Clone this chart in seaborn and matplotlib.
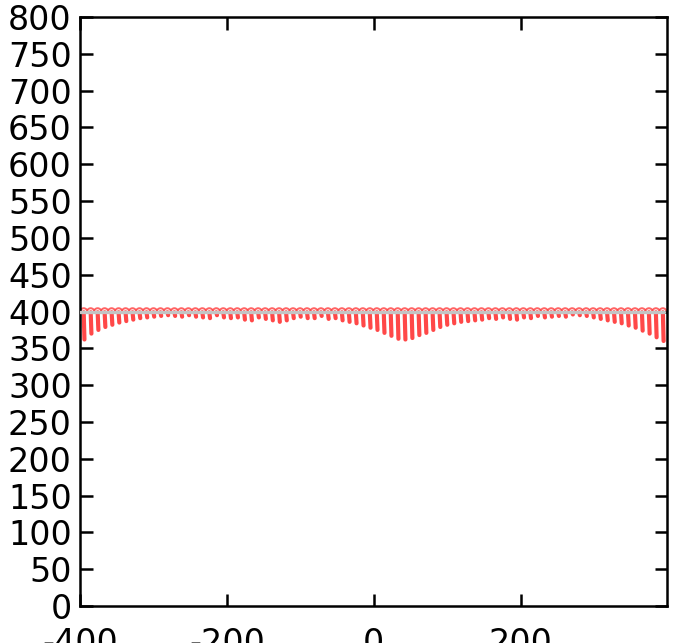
import numpy as np
import pandas as pd
import seaborn as sns
import matplotlib.pyplot as plt
from matplotlib.patches import Arc

# drop positions (x) and how far each one hangs below the 400 line
drop_x = [-395.0 + 9.5 * i for i in range(84)]
drop_depth = [38, 30, 25, 21, 18, 15, 13, 11, 9, 8,
              7, 6, 5, 6, 7, 5, 7, 8, 9, 5,
              8, 9, 8, 11, 12, 8, 10, 12, 14, 12,
              9, 7, 9, 9, 6, 10, 9, 12, 14, 16,
              19, 22, 25, 29, 33, 37, 38, 36, 32, 29,
              25, 21, 18, 16, 14, 13, 12, 11, 9, 10,
              8, 10, 11, 8, 9, 6, 8, 7, 6, 7,
              4, 5, 6, 8, 10, 12, 14, 16, 19, 22,
              26, 30, 35, 40]
base_level = 400
x_ticks = [-400, -200, 0, 200]
y_ticks = list(range(0, 801, 50))

rows = []
for i, (x, d) in enumerate(zip(drop_x, drop_depth)):
    rows.append({"x": x, "y": base_level - 1, "drop": i})
    rows.append({"x": x + 1.0, "y": base_level - d, "drop": i})
drops_df = pd.DataFrame(rows)

sns.set_style("ticks")
plt.rcParams["axes.unicode_minus"] = False
fig = plt.figure(figsize=(6.84, 6.43), dpi=100)
ax = fig.add_axes([0.117, 0.0575, 0.858, 0.916])

# little loops on top of the line
for x in drop_x:
    ax.add_patch(Arc((x, base_level), 9.5, 9, theta1=0, theta2=180,
                     color="#ff3030", lw=1.4, alpha=0.75))

sns.lineplot(data=drops_df, x="x", y="y", units="drop", estimator=None,
             color="#ff1a1a", lw=3.0, alpha=0.8, solid_capstyle="round",
             sort=False, ax=ax)

ax.plot([-400, 395], [base_level, base_level], color="#c4c4c4", lw=2.4, zorder=3)

ax.set_xlim(-400, 399)
ax.set_ylim(0, 800)
ax.set_xticks(x_ticks)
ax.set_yticks(y_ticks)
ax.set_xlabel("")
ax.set_ylabel("")
ax.tick_params(direction="in", length=9, width=1.8, labelsize=24,
               top=True, right=True, colors="black")
ax.tick_params(axis="x", pad=15)
ax.tick_params(axis="y", pad=6)
for s in ax.spines.values():
    s.set_visible(True)
    s.set_linewidth(1.8)
    s.set_color("black")

fig.savefig("out.png", dpi=100)
